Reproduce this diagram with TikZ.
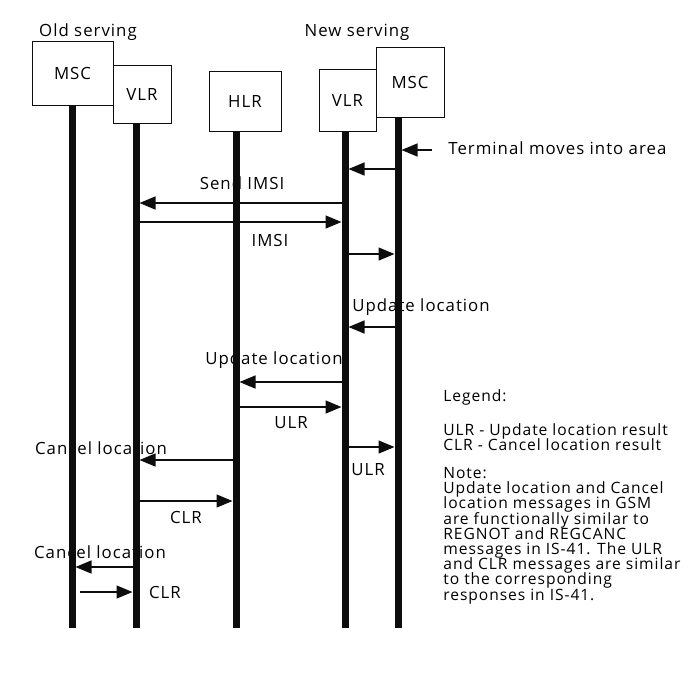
\documentclass[tikz,border=0pt]{standalone}
\usepackage{fontspec}
\setmainfont{Open Sans}[LetterSpace=6]
\usepackage{tikz}
\usetikzlibrary{arrows.meta,positioning,calc}
\definecolor{InkBlack}{gray}{0.05}
\setlength{\lineskiplimit}{-100pt}

\tikzset{
  entity/.style={draw=InkBlack,line width=0.5pt,inner sep=0pt},
  lifeline/.style={line width=3.5pt,draw=InkBlack},
  msg/.style={->,line width=0.7pt,draw=InkBlack,shorten >=1.75pt,shorten <=1.75pt},
  msglabel/.style={inner sep=0pt},
  legendtext/.style={inner sep=0pt,align=left,anchor=north west,
    font=\fontsize{7.8}{7.6}\selectfont}
}

\begin{document}
\begin{tikzpicture}[x=0.5pt,y=-0.5pt,>={Triangle[length=8pt,width=6.5pt]},
    font=\fontsize{8.4}{8}\selectfont]
  \useasboundingbox (0,0) rectangle (694,675);
  % network entities
  \node[entity,minimum width=40.5pt,minimum height=32pt] (oMSC) at (72.5,73) {MSC};
  \node[entity,minimum width=29pt,minimum height=29pt] (oVLR) at (142,94) {VLR};
  \node[entity,minimum width=36pt,minimum height=30pt] (HLR) at (245,101) {HLR};
  \node[entity,minimum width=28.5pt,minimum height=31pt] (nVLR) at (347.5,100) {VLR};
  \node[entity,minimum width=34pt,minimum height=35pt] (nMSC) at (410,82) {MSC};
  \node (oldgrp) at (88,32) {Old serving};
  \node (newgrp) at (357,32) {New serving};

  % message labels (behind the lifelines)
  \node[msglabel] (sendimsi) at (242,183) {Send IMSI};
  \node[msglabel] (imsi) at (270,240) {IMSI};
  \node[msglabel] (updR) at (421,307) {Update location};
  \node[msglabel] (updH) at (274,360) {Update location};
  \node[msglabel] (ulrH) at (291,423) {ULR};
  \node[msglabel] (canH) at (101,448) {Cancel location};
  \node[msglabel] (ulrM) at (368,470) {ULR};
  \node[msglabel] (clrH) at (186,517) {CLR};
  \node[msglabel] (canV) at (100,552) {Cancel location};
  \node[msglabel] (clrV) at (165,592) {CLR};
  \node[msglabel,anchor=west] (mob) at (448,148) {Terminal moves into area};

  % lifelines
  \coordinate (oM) at (72,628);
  \coordinate (oV) at (136,628);
  \coordinate (hL) at (236,628);
  \coordinate (nV) at (345,628);
  \coordinate (nM) at (398,628);
  \draw[lifeline] (oMSC.south -| oM) -- (oM);
  \draw[lifeline] (oVLR.south -| oV) -- (oV);
  \draw[lifeline] (HLR.south -| hL) -- (hL);
  \draw[lifeline] (nVLR.south -| nV) -- (nV);
  \draw[lifeline] (nMSC.south -| nM) -- (nM);

  % messages
  \coordinate (mobin) at (432,150);
  \draw[msg,shorten <=0pt] (mobin) -- (nM |- mobin);
  \draw[msg] (nM |- 0,169) -- (nV |- 0,169);
  \draw[msg] (nV |- 0,203) -- (oV |- 0,203);
  \draw[msg] (oV |- 0,222) -- (nV |- 0,222);
  \draw[msg] (nV |- 0,254) -- (nM |- 0,254);
  \draw[msg] (nM |- 0,327) -- (nV |- 0,327);
  \draw[msg] (nV |- 0,382) -- (hL |- 0,382);
  \draw[msg] (hL |- 0,407) -- (nV |- 0,407);
  \draw[msg] (nV |- 0,447) -- (nM |- 0,447);
  \draw[msg] (hL |- 0,460) -- (oV |- 0,460);
  \draw[msg] (oV |- 0,501) -- (hL |- 0,501);
  \draw[msg] (oV |- 0,567) -- (oM |- 0,567);
  \draw[msg,shorten <=4pt] (oM |- 0,592) -- (oV |- 0,592);

  % legend
  \node[legendtext,anchor=west] (leg) at (443,397) {Legend:};
  \node[legendtext] (abbr) at (443,423) {ULR - Update location result\\
    CLR - Cancel location result};
  \node[legendtext] (note) at (443,467) {Note:\\
    Update location and Cancel\\
    location messages in GSM\\
    are functionally similar to\\
    REGNOT and REGCANC\\
    messages in IS-41. The ULR\\
    and CLR messages are similar\\
    to the corresponding\\
    responses in IS-41.};
\end{tikzpicture}
\end{document}
